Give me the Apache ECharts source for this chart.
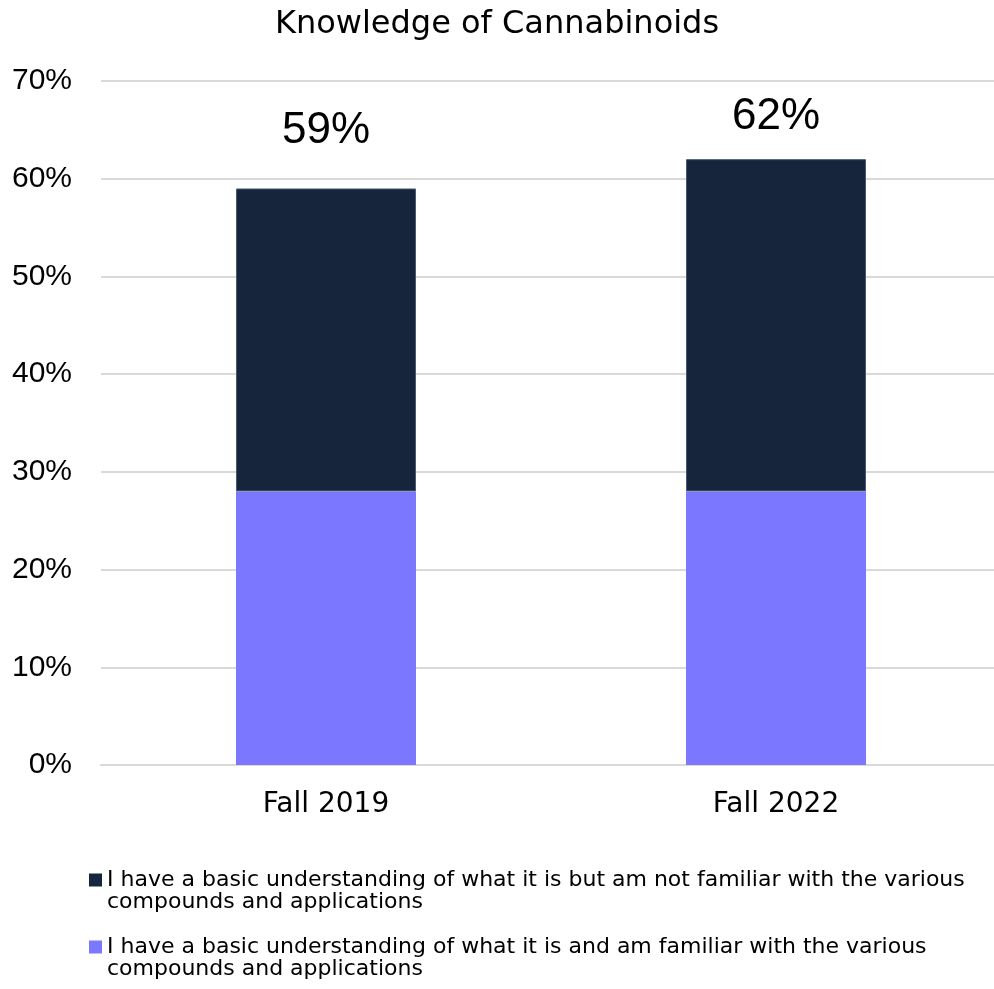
<!DOCTYPE html>
<html>
<head>
<meta charset="utf-8">
<script src="https://cdn.jsdelivr.net/npm/echarts@6/dist/echarts.min.js"></script>
<style>
html,body{margin:0;padding:0;background:#fff;}
#chart{width:994px;height:989px;}
</style>
</head>
<body>
<div id="chart"></div>
<script>
const title = 'Knowledge of Cannabinoids';
const categories = ['Fall 2019', 'Fall 2022'];
const seriesNames = [
  'I have a basic understanding of what it is and am familiar with the various compounds and applications',
  'I have a basic understanding of what it is but am not familiar with the various compounds and applications'
];
const familiarValues = [28, 28];
const notFamiliarValues = [31, 34];
const totalLabelDistance = [36, 20];
const yTicks = [0, 10, 20, 30, 40, 50, 60, 70];

const totals = categories.map((c, i) => familiarValues[i] + notFamiliarValues[i]);

const chart = echarts.init(document.getElementById('chart'), null, {renderer: 'canvas'});
const font = '"DejaVu Sans", sans-serif';
const numFont = '"Liberation Sans", Arial, sans-serif';

chart.setOption({
  animation: false,
  backgroundColor: '#ffffff',
  title: {
    text: title,
    left: 'center',
    top: 4,
    textStyle: {fontFamily: font, fontSize: 32, fontWeight: 'normal', color: '#000'}
  },
  grid: {left: 101, width: 900, top: 81, bottom: 224, outerBoundsMode: 'none', containLabel: false},
  xAxis: {
    type: 'category',
    data: categories,
    axisTick: {show: false},
    axisLine: {lineStyle: {color: '#d9d9d9', width: 2}},
    axisLabel: {fontFamily: font, fontSize: 28, color: '#000', margin: 26}
  },
  yAxis: {
    type: 'value',
    min: yTicks[0],
    max: yTicks[yTicks.length - 1],
    interval: 10,
    axisLine: {show: false},
    axisTick: {show: false},
    splitLine: {lineStyle: {color: '#d9d9d9', width: 2}},
    axisLabel: {fontFamily: numFont, fontSize: 30, color: '#000', margin: 29, formatter: '{value}%'}
  },
  legend: {
    orient: 'vertical',
    left: 89,
    top: 847,
    padding: 0,
    itemGap: 1,
    itemWidth: 13,
    itemHeight: 13,
    icon: 'rect',
    itemStyle: {borderWidth: 0},
    data: [seriesNames[1], seriesNames[0]],
    formatter: function (name) { return '\n' + name.replace(' compounds', '\ncompounds'); },
    textStyle: {fontFamily: font, fontSize: 22, color: '#000', lineHeight: 22}
  },
  series: [
    {
      name: seriesNames[0],
      type: 'bar',
      stack: 'total',
      barWidth: '40%',
      data: familiarValues,
      itemStyle: {color: '#7b78ff'}
    },
    {
      name: seriesNames[1],
      type: 'bar',
      stack: 'total',
      barWidth: '40%',
      data: notFamiliarValues.map((v, i) => ({
        value: v,
        label: {distance: totalLabelDistance[i]}
      })),
      itemStyle: {color: '#17253c', borderColor: '#4a5870', borderWidth: 1},
      label: {
        show: true,
        position: 'top',
        fontFamily: numFont,
        fontSize: 44,
        color: '#000',
        formatter: function (p) { return totals[p.dataIndex] + '%'; }
      }
    }
  ]
});
</script>
</body>
</html>
